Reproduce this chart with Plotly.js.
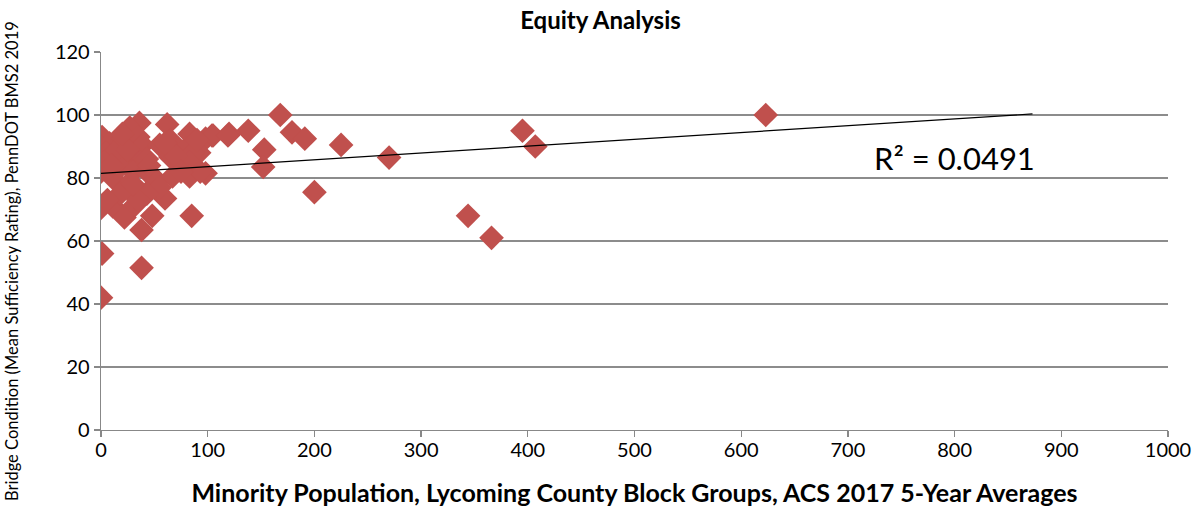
<!DOCTYPE html>
<html>
<head>
<meta charset="utf-8">
<script src="https://cdn.plot.ly/plotly-3.0.1.min.js"></script>
<style>html,body{margin:0;padding:0;background:#fff;}#chart{width:1201px;height:523px;}</style>
</head>
<body>
<div id="chart"></div>
<script>
// Minority population per block group (x) and mean sufficiency rating (y)
const minorityPop = [
  623, 395, 407, 344, 366, 270, 225, 200, 168, 179, 191, 153, 152, 138, 120, 104, 98, 92, 98,
  36, 62, 83, 105, 119, 1, 38, 85, 38, 48, 60, 0, 11, 22, 32, 53, 48, 37, 27, 0, 11,
  1, 0, 8, 21, 27, 35, 39, 15, 27, 37, 43, 18, 30, 43, 51, 24, 18, 55, 65, 71,
  80, 86, 65, 74, 83, 67, 83, 93, 55, 43, 35, 6, 0, 5, 12, 3, 25, 30, 45, 70,
  75, 90, 60, 20, 10
];
const sufficiency = [
  100, 95, 90, 68, 61, 86.5, 90.5, 75.5, 100, 94.5, 92.5, 89, 83.5, 95, 94, 93.5, 92.5, 88, 81.5,
  97.5, 97, 94, 93.5, 93.5, 56, 51.5, 68, 63.5, 68, 73.5, 70.5, 71, 67.5, 71.5, 79, 77, 74.5, 76, 82, 80,
  93, 90, 91, 92.5, 96, 93, 90.5, 86.5, 87, 85, 86, 83.5, 82, 82, 79.5, 77.5, 75, 90.5, 92, 89.5,
  89.5, 88, 86.7, 85, 85, 80.5, 80.5, 82, 77, 75, 73, 73, 42, 88, 88, 85, 89, 78, 84, 87,
  82, 92, 91, 94, 84
];
const xTicks = [0, 100, 200, 300, 400, 500, 600, 700, 800, 900, 1000];
const yTicks = [0, 20, 40, 60, 80, 100, 120];
const trendEndX = [0, 873];
const r2Label = 'R² = 0.0491';
const yTitle = 'Bridge Condition (Mean Sufficiency Rating), PennDOT BMS2 2019';

// least-squares trend line from the data
const n = minorityPop.length;
const mx = minorityPop.reduce((a, b) => a + b, 0) / n;
const my = sufficiency.reduce((a, b) => a + b, 0) / n;
let sxy = 0, sxx = 0;
for (let i = 0; i < n; i++) { sxy += (minorityPop[i] - mx) * (sufficiency[i] - my); sxx += (minorityPop[i] - mx) ** 2; }
const slope = sxy / sxx, intercept = my - slope * mx;
const trendY = trendEndX.map(x => intercept + slope * x);

const font = 'Lato, "Open Sans", sans-serif';
const data = [
  {
    x: minorityPop, y: sufficiency, type: 'scatter', mode: 'markers',
    marker: {symbol: 'diamond', size: 19, color: '#C0504D', line: {width: 0}},
    hoverinfo: 'x+y'
  },
  {
    x: trendEndX, y: trendY, type: 'scatter', mode: 'lines',
    line: {color: '#000000', width: 1.2}, hoverinfo: 'skip'
  }
];
const layout = {
  width: 1201, height: 523,
  margin: {l: 101, r: 33, t: 52, b: 93},
  paper_bgcolor: '#ffffff', plot_bgcolor: '#ffffff',
  showlegend: false,
  font: {family: font, color: '#000000'},
  title: {text: '<b>Equity Analysis</b>', font: {family: font, size: 24, color: '#000000'},
          x: 0.5, xanchor: 'center', y: 1.0, yanchor: 'top', yref: 'container', pad: {t: 12}},
  xaxis: {
    range: [0, 1000], tickvals: xTicks, ticktext: xTicks.map(String),
    showgrid: false, zeroline: false, showline: true, linecolor: '#888888', linewidth: 1.3,
    ticks: 'outside', ticklen: 6, tickcolor: '#888888', tickwidth: 1.3,
    ticklabelstandoff: -4,
    tickfont: {family: font, size: 20, color: '#000000'},
    title: {text: '<b>Minority Population, Lycoming County Block Groups, ACS 2017 5-Year Averages</b>',
            font: {family: font, size: 25, color: '#000000'}, standoff: 24}
  },
  yaxis: {
    range: [0, 120], tickvals: yTicks, ticktext: yTicks.map(String),
    showgrid: true, gridcolor: '#8c8c8c', gridwidth: 1.2, zeroline: false,
    showline: true, linecolor: '#888888', linewidth: 1.3,
    ticks: 'outside', ticklen: 6, tickcolor: '#888888', tickwidth: 1.3,
    tickfont: {family: font, size: 20, color: '#000000'}
  },
  annotations: [
    {
      x: 800, y: 86.5, xref: 'x', yref: 'y', text: r2Label, showarrow: false,
      font: {family: font, size: 31, color: '#000000'}, xanchor: 'center', yanchor: 'middle'
    },
    {
      x: -0.0834, y: 0.447, xref: 'paper', yref: 'paper', text: yTitle, showarrow: false,
      textangle: -90, font: {family: font, size: 16.5, color: '#000000'},
      xanchor: 'center', yanchor: 'middle'
    }
  ]
};
Plotly.newPlot('chart', data, layout, {displayModeBar: false, staticPlot: true});
</script>
</body>
</html>
